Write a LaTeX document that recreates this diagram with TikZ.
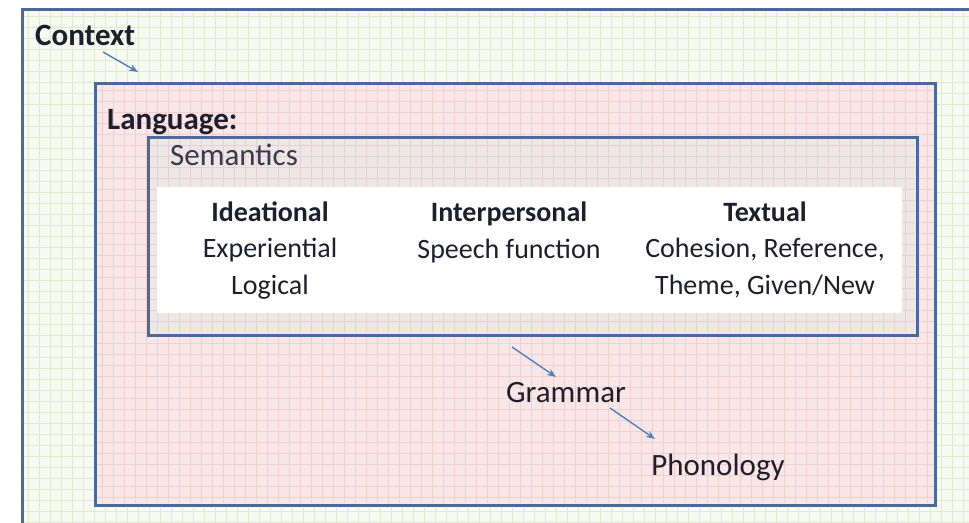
\documentclass[tikz,border=0pt]{standalone}
\usepackage{fontspec}
\setmainfont{Carlito}
\usepackage{xcolor}
\definecolor{boxblue}{HTML}{4A6A9C}
\definecolor{arrblue}{HTML}{4F81BD}
\definecolor{ctxfill}{HTML}{F7FAF0}
\definecolor{ctxgrid}{HTML}{E0EACD}
\definecolor{langfill}{HTML}{F9E6E6}
\definecolor{langgrid}{HTML}{F0CFCF}
\definecolor{semfill}{HTML}{EFE6E6}
\definecolor{semgrid}{HTML}{E2D3D3}
\definecolor{inktext}{HTML}{1E1E2C}
\definecolor{semtext}{HTML}{3A3A4E}
\usetikzlibrary{arrows.meta, positioning}
\tikzset{
  ctxbox/.style  ={draw=boxblue, line width=3pt, fill=ctxfill},
  langbox/.style ={draw=boxblue, line width=3pt, fill=langfill},
  sembox/.style  ={draw=boxblue, line width=3pt, fill=semfill},
  whitebox/.style={fill=white},
  ctxlines/.style ={draw=ctxgrid, line width=0.5pt},
  langlines/.style={draw=langgrid, line width=0.5pt},
  semlines/.style ={draw=semgrid, line width=0.5pt},
  outerlbl/.style={font=\fontsize{31}{37}\selectfont, text=inktext, inner sep=0pt},
  headlbl/.style ={font=\fontsize{28}{36}\selectfont\bfseries, text=inktext, inner sep=0pt, align=center},
  bodylbl/.style ={font=\fontsize{28}{36.5}\selectfont, text=inktext, inner sep=0pt, align=center},
  larr/.style={-{Stealth[length=9pt, width=7pt]}, line width=1.4pt, color=arrblue},
}

\begin{document}
\begin{tikzpicture}[x=1pt, y=-1pt]
  \useasboundingbox (0,0) rectangle (969,522);
  \clip (0,0) rectangle (969,522);
  \fill[white] (0,0) rectangle (969,522);
  % context area
  \path[ctxbox] (22,9) rectangle (1000,560);
  \foreach \gx in {28,39,...,969} \draw[ctxlines] (\gx,11) -- (\gx,522);
  \foreach \gy in {16,27,...,522} \draw[ctxlines] (24,\gy) -- (969,\gy);
  \draw[boxblue, line width=3pt] (22,560) -- (22,9) -- (1000,9);
  % language area
  \path[langbox] (95,83) rectangle (935,505);
  \foreach \gx in {102,113,...,930} \draw[langlines] (\gx,85) -- (\gx,503);
  \foreach \gy in {90,101,...,500} \draw[langlines] (97,\gy) -- (933,\gy);
  \draw[boxblue, line width=3pt] (95,83) rectangle (935,505);
  % semantics
  \path[sembox] (148,137) rectangle (917,335);
  \foreach \gx in {157,168,...,912} \draw[semlines] (\gx,139) -- (\gx,333);
  \foreach \gy in {145,156,...,330} \draw[semlines] (150,\gy) -- (915,\gy);
  \draw[boxblue, line width=3pt] (148,137) rectangle (917,335);
  \fill[whitebox] (157,187) rectangle (902,313);

  \node[outerlbl, font=\fontsize{31}{37}\selectfont\bfseries, anchor=base west] (ctx) at (35,45) {Context};
  \node[outerlbl, font=\fontsize{31}{37}\selectfont\bfseries, anchor=base west] (lang) at (107,129) {Language:};
  \node[outerlbl, text=semtext, anchor=base west] (sem) at (170,165) {Semantics};

  \node[headlbl, anchor=base] (idea) at (270,221) {Ideational};
  \node[bodylbl, anchor=base] (ideab) at (270,294) {Experiential\\Logical};
  \node[headlbl, anchor=base] (inter) at (509,221) {Interpersonal};
  \node[bodylbl, anchor=base] (interb) at (509,258) {Speech function};
  \node[headlbl, anchor=base] (text) at (765,221) {Textual};
  \node[bodylbl, anchor=base] (textb) at (765,294) {Cohesion, Reference,\\Theme, Given/New};

  \node[outerlbl, anchor=base] (gram) at (566,402) {Grammar};
  \node[outerlbl, anchor=base] (phon) at (718,475) {Phonology};

  \coordinate (ctxfrom) at (103,52);  \coordinate (ctxto) at (138,72);
  \coordinate (semfrom) at (512,347); \coordinate (gramto) at (556,377);
  \coordinate (gramfrom) at (610,408); \coordinate (phonto) at (655,439);
  \draw[larr] (ctxfrom) -- (ctxto);
  \draw[larr] (semfrom) -- (gramto);
  \draw[larr] (gramfrom) -- (phonto);
\end{tikzpicture}
\end{document}
